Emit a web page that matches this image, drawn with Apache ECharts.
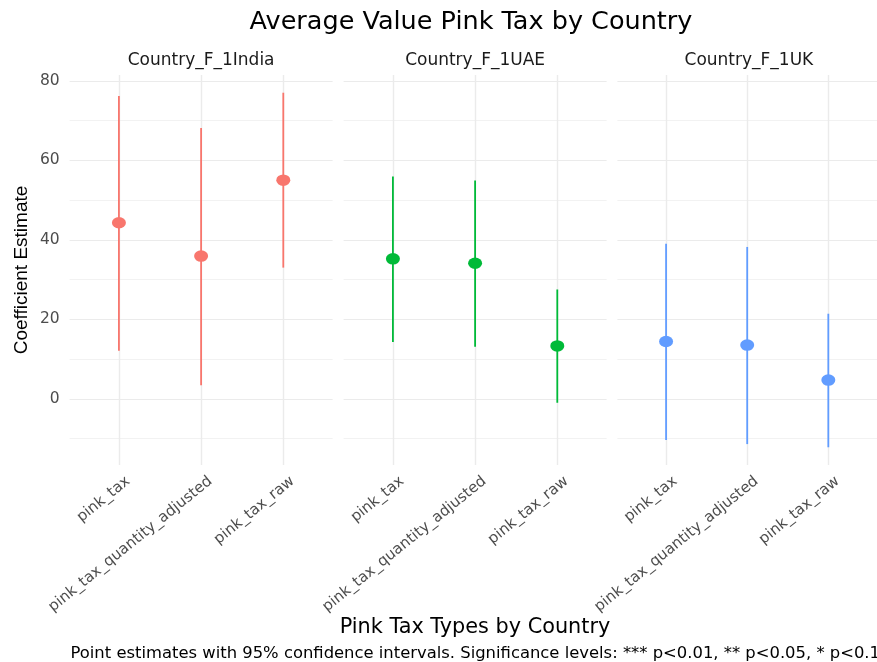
<!DOCTYPE html>
<html>
<head>
<meta charset="utf-8">
<script src="https://cdn.jsdelivr.net/npm/echarts@6/dist/echarts.min.js"></script>
<style>
  html, body { margin: 0; padding: 0; background: #ffffff; }
  #chart { width: 877px; height: 662px; }
</style>
</head>
<body>
<div id="chart"></div>
<script>
// Facets (one panel per country) and the pink-tax measures on each x axis
const countries = ['Country_F_1India', 'Country_F_1UAE', 'Country_F_1UK'];
const taxTypes = ['pink_tax', 'pink_tax_quantity_adjusted', 'pink_tax_raw'];
const countryColors = ['#F8766D', '#00BA38', '#619CFF'];

// Coefficient estimates with 95% confidence bounds, per country
const estimateIndia = [44.3, 35.9, 55.0];
const lowerIndia    = [12.1, 3.4, 33.0];
const upperIndia    = [76.2, 68.1, 77.0];

const estimateUAE = [35.2, 34.1, 13.3];
const lowerUAE    = [14.3, 13.1, -1.0];
const upperUAE    = [55.9, 54.9, 27.5];

const estimateUK = [14.4, 13.5, 4.7];
const lowerUK    = [-10.4, -11.4, -12.2];
const upperUK    = [39.0, 38.2, 21.4];

const yMajorTicks = [0, 20, 40, 60, 80];
const yMinorTicks = [-10, 10, 30, 50, 70];

const estimates = [estimateIndia, estimateUAE, estimateUK];
const lowers = [lowerIndia, lowerUAE, lowerUK];
const uppers = [upperIndia, upperUAE, upperUK];

// Shared y range: data extent plus 5% on each side
const allLo = Math.min(...lowers.flat());
const allHi = Math.max(...uppers.flat());
const pad = (allHi - allLo) * 0.05;
const yMin = allLo - pad;
const yMax = allHi + pad;

const FONT = 'DejaVu Sans';
const panelLefts = [69.6, 343.6, 617.4];
const panelWidth = 263;
const panelTop = 75;
const panelHeight = 390;

const grids = [], xAxes = [], yAxes = [], series = [];

countries.forEach((c, i) => {
  grids.push({ left: panelLefts[i], top: panelTop, width: panelWidth, height: panelHeight, containLabel: false });

  xAxes.push({
    type: 'value', gridIndex: i, min: 0.4, max: 3.6,
    axisLine: { show: false },
    axisTick: { show: false, customValues: [1, 2, 3] },
    axisLabel: {
      customValues: [1, 2, 3],
      formatter: v => taxTypes[Math.round(v) - 1],
      rotate: 39, margin: 22, padding: [0, -12, 0, 0],
      color: '#4D4D4D', fontFamily: FONT, fontSize: 15
    },
    splitLine: { show: true, lineStyle: { color: '#EBEBEB', width: 1.4 } }
  });

  // major grid axis (labels on the first panel only)
  yAxes.push({
    type: 'value', gridIndex: i, min: yMin, max: yMax,
    axisLine: { show: false },
    axisTick: { show: false, customValues: yMajorTicks },
    axisLabel: {
      show: i === 0, customValues: yMajorTicks, margin: 10,
      color: '#4D4D4D', fontFamily: FONT, fontSize: 15.5
    },
    splitLine: { show: true, lineStyle: { color: '#EBEBEB', width: 1.2 } }
  });
  // minor grid axis
  yAxes.push({
    type: 'value', gridIndex: i, min: yMin, max: yMax,
    axisLine: { show: false },
    axisTick: { show: false, customValues: yMinorTicks },
    axisLabel: { show: false },
    splitLine: { show: true, lineStyle: { color: '#F2F2F2', width: 1 } }
  });

  const color = countryColors[i];
  const rows = taxTypes.map((t, k) => [k + 1, estimates[i][k], lowers[i][k], uppers[i][k]]);

  // confidence interval segments
  series.push({
    type: 'custom', xAxisIndex: i, yAxisIndex: 2 * i,
    data: rows,
    encode: { x: 0, y: [2, 3] },
    renderItem: (params, api) => {
      const top = api.coord([api.value(0), api.value(3)]);
      const bot = api.coord([api.value(0), api.value(2)]);
      return {
        type: 'line',
        shape: { x1: top[0], y1: top[1], x2: bot[0], y2: bot[1] },
        style: { stroke: color, lineWidth: 1.8 }
      };
    },
    z: 3, silent: true
  });

  // point estimates
  series.push({
    type: 'scatter', xAxisIndex: i, yAxisIndex: 2 * i,
    data: rows.map(r => [r[0], r[1]]),
    symbol: 'circle', symbolSize: [14, 11.5],
    itemStyle: { color: color, opacity: 1 },
    z: 4, silent: true
  });
});

const panelCenters = panelLefts.map(l => l + panelWidth / 2);
const textEl = (text, x, y, size, color, extra) => Object.assign({
  type: 'text', x: x, y: y, silent: true,
  style: { text: text, fill: color, fontFamily: FONT, fontSize: size, align: 'center', verticalAlign: 'middle' }
}, extra || {});

const graphics = [
  textEl('Average Value Pink Tax by Country', 471, 22, 25.5, '#000000'),
  textEl('Pink Tax Types by Country', 475, 628, 20.8, '#000000'),
  {
    type: 'text', x: 880, y: 654, silent: true,
    style: { text: 'Point estimates with 95% confidence intervals. Significance levels: *** p<0.01, ** p<0.05, * p<0.1',
      fill: '#000000', fontFamily: FONT, fontSize: 16.4, align: 'right', verticalAlign: 'middle' }
  },
  {
    type: 'text', x: 22, y: 270, rotation: Math.PI / 2, silent: true,
    style: { text: 'Coefficient Estimate', fill: '#000000', fontFamily: 'Liberation Sans', fontSize: 19,
      align: 'center', verticalAlign: 'middle' }
  }
];
countries.forEach((c, i) => graphics.push(textEl(c, panelCenters[i], 61, 17, '#1A1A1A')));

const chart = echarts.init(document.getElementById('chart'), null, { renderer: 'canvas' });
chart.setOption({
  backgroundColor: '#ffffff',
  animation: false,
  grid: grids,
  xAxis: xAxes,
  yAxis: yAxes,
  series: series,
  graphic: graphics
});
</script>
</body>
</html>
